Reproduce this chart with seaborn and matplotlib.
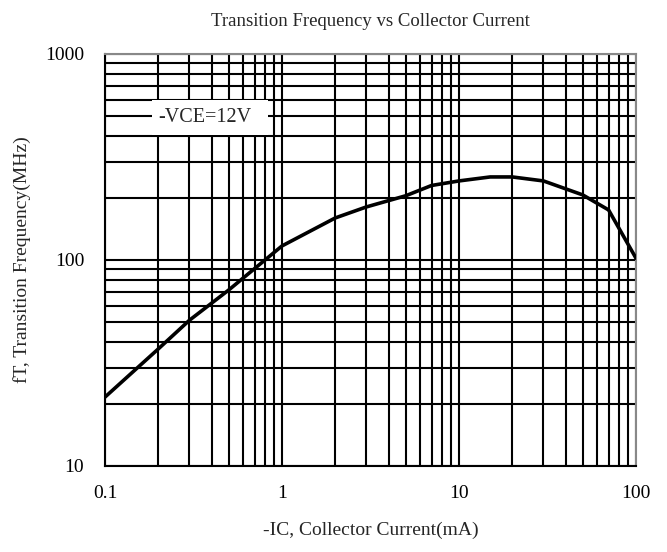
import matplotlib
matplotlib.use("Agg")
import matplotlib.pyplot as plt
import seaborn as sns
import numpy as np
import pandas as pd
from matplotlib.ticker import FixedLocator, NullFormatter, FixedFormatter
from matplotlib.patches import Rectangle

ic_ma = [0.1, 0.2, 0.3, 0.5, 1, 2, 3, 5, 7, 10, 15, 20, 30, 50, 70, 100]
ft_mhz = [21.6, 37, 51, 71.5, 117, 160, 181, 205, 230, 242, 253, 253, 242, 207, 175, 102]
x_ticks = [0.1, 1, 10, 100]
x_ticklabels = ["0.1", "1", "10", "100"]
y_ticks = [10, 100, 1000]
y_ticklabels = ["10", "100", "1000"]

df = pd.DataFrame({"ic": ic_ma, "ft": ft_mhz})

sns.set_theme(style="white")
plt.rcParams['font.family'] = ['Liberation Serif', 'DejaVu Serif']

fig = plt.figure(figsize=(6.67, 5.52), dpi=100)
ax = fig.add_axes([0.1574, 0.1558, 0.7961, 0.7464])
ax.set_xscale("log")
ax.set_yscale("log")

sns.lineplot(data=df, x="ic", y="ft", ax=ax, color="black", linewidth=2.6, zorder=5)

ax.set_xlim(0.1, 100)
ax.set_ylim(10, 1000)

minor_x = [m * 10.0**e for e in range(-1, 2) for m in range(2, 10)]
minor_y = [m * 10.0**e for e in range(1, 3) for m in range(2, 10)]
ax.xaxis.set_major_locator(FixedLocator(x_ticks))
ax.xaxis.set_major_formatter(FixedFormatter(x_ticklabels))
ax.xaxis.set_minor_locator(FixedLocator(minor_x))
ax.xaxis.set_minor_formatter(NullFormatter())
ax.yaxis.set_major_locator(FixedLocator(y_ticks))
ax.yaxis.set_major_formatter(FixedFormatter(y_ticklabels))
ax.yaxis.set_minor_locator(FixedLocator(minor_y))
ax.yaxis.set_minor_formatter(NullFormatter())
ax.grid(True, which="both", color="black", linewidth=1.5, zorder=1)
ax.set_axisbelow(True)
ax.tick_params(axis="x", which="both", length=0, labelsize=14, pad=14, colors="black")
ax.tick_params(axis="y", which="both", length=0, labelsize=14, pad=15, colors="black")

for s in ["left", "bottom"]:
    ax.spines[s].set_color("black")
    ax.spines[s].set_linewidth(1.5)
for s in ["top", "right"]:
    ax.spines[s].set_color("#888888")
    ax.spines[s].set_linewidth(1.5)

ax.set_title("Transition Frequency vs Collector Current", fontsize=13.5, pad=20)
ax.set_xlabel("-IC, Collector Current(mA)", fontsize=14, labelpad=14)
ax.set_ylabel("fT, Transition Frequency(MHz)", fontsize=14, labelpad=10)

ax.add_patch(Rectangle((0.1846, 404), 0.834 - 0.1846, 598 - 404,
                       facecolor="white", edgecolor="none", zorder=4))
ax.text(0.2, 490, "-VCE=12V", fontsize=14.5, va="center", ha="left", zorder=6)

fig.savefig("out.png", dpi=100)
